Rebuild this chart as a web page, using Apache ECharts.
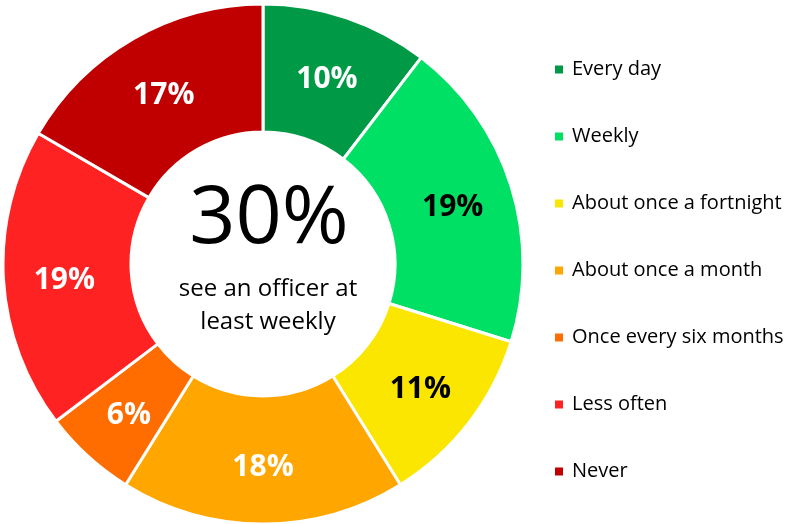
<!DOCTYPE html>
<html>
<head>
<meta charset="utf-8">
<script src="https://cdn.jsdelivr.net/npm/echarts@6/dist/echarts.min.js"></script>
<style>
  html, body { margin: 0; padding: 0; background: #fff; }
  #chart { width: 787px; height: 524px; }
</style>
</head>
<body>
<div id="chart"></div>
<script>
const categories = ['Every day', 'Weekly', 'About once a fortnight', 'About once a month', 'Once every six months', 'Less often', 'Never']
// shares; labels show them rounded
const shares = [10.4, 19.4, 11.3, 17.7, 5.8, 18.7, 16.6]
const sliceColors = ['#009a46', '#00e065', '#fae600', '#ffa600', '#ff6c00', '#ff2222', '#c00000']
const labelColors = ['#fff', '#000', '#000', '#fff', '#fff', '#fff', '#fff']
const centerValue = '30%'
const centerLines = ['see an officer at', 'least weekly']

const font = '"Open Sans", "Noto Sans", sans-serif'
const chart = echarts.init(document.getElementById('chart'))

chart.setOption({
  animation: false,
  legend: {
    orient: 'vertical',
    left: 548,
    top: 54,
    itemWidth: 10,
    itemHeight: 10,
    itemGap: 46,
    icon: 'rect',
    textStyle: {
      fontFamily: font,
      fontSize: 20,
      lineHeight: 21,
      color: '#000',
      padding: [0, 0, 0, 3]
    },
    data: categories
  },
  graphic: [{
    type: 'text',
    z: 100,
    style: {
      text: centerValue,
      x: 269,
      y: 220,
      align: 'center',
      verticalAlign: 'middle',
      font: '81px ' + font,
      fill: '#000'
    }
  }, {
    type: 'text',
    z: 100,
    style: {
      text: centerLines.join('\n'),
      x: 268,
      y: 306,
      align: 'center',
      verticalAlign: 'middle',
      font: '24px ' + font,
      lineHeight: 33,
      fill: '#000'
    }
  }],
  series: [{
    type: 'pie',
    center: [263, 264],
    radius: [132, 260],
    startAngle: 90,
    clockwise: true,
    itemStyle: {
      borderColor: '#fff',
      borderWidth: 3
    },
    label: {
      position: 'inside',
      offset: [0, 4],
      fontFamily: font,
      fontSize: 30,
      fontWeight: 'bold',
      formatter: p => Math.round(p.value) + '%'
    },
    labelLine: { show: false },
    data: categories.map((name, i) => ({
      name: name,
      value: shares[i],
      itemStyle: { color: sliceColors[i] },
      label: { color: labelColors[i] }
    }))
  }]
})
</script>
</body>
</html>
